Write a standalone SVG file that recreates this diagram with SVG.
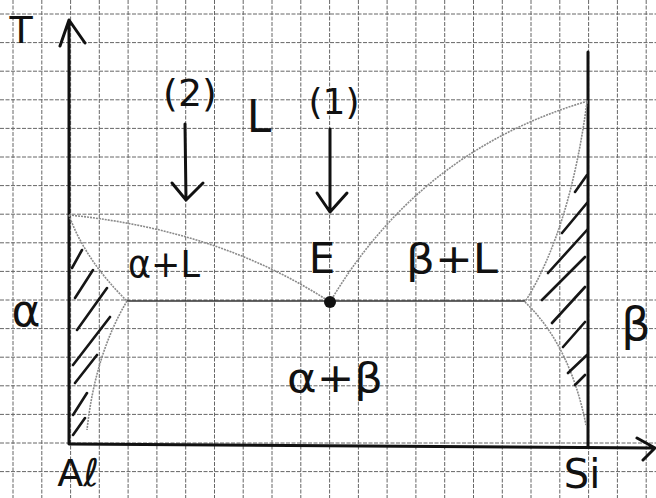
<svg xmlns="http://www.w3.org/2000/svg" width="656" height="498" viewBox="0 0 656 498">
  <style>
    .grid { fill: none; stroke: #666; stroke-width: 1; stroke-dasharray: 4 1.5; }
    .axis { fill: none; stroke: #111; stroke-width: 3; stroke-linecap: round; stroke-linejoin: round; }
    .curve { fill: none; stroke: #8a8a8a; stroke-width: 1.6; stroke-dasharray: 2 1; }
    .line { fill: none; stroke: #333; stroke-width: 1.6; }
    .hatch { fill: none; stroke: #161616; stroke-width: 2.6; stroke-linecap: round; }
    .arrow { fill: none; stroke: #111; stroke-width: 3; stroke-linecap: round; stroke-linejoin: round; }
    .lbl { font-family: "DejaVu Sans", "Liberation Sans", sans-serif; fill: #111; }
  </style>
  <rect width="656" height="498" fill="#fff"/>

  <!-- squared paper -->
  <g id="grid">
    <path class="grid" d="M13,0V498 M41.8,0V498 M70.6,0V498 M99.3,0V498 M128.1,0V498 M156.9,0V498 M185.7,0V498 M214.5,0V498 M243.2,0V498 M272,0V498 M300.8,0V498 M329.6,0V498 M358.4,0V498 M387.1,0V498 M415.9,0V498 M444.7,0V498 M473.5,0V498 M502.3,0V498 M531,0V498 M559.8,0V498 M588.6,0V498 M617.4,0V498 M646.2,0V498"/>
    <path class="grid" d="M0,14H656 M0,42.6H656 M0,71.2H656 M0,99.8H656 M0,128.4H656 M0,157H656 M0,185.6H656 M0,214.2H656 M0,242.8H656 M0,271.4H656 M0,300H656 M0,328.6H656 M0,357.2H656 M0,385.8H656 M0,414.4H656 M0,443H656 M0,471.6H656"/>
  </g>

  <!-- axes -->
  <g id="axes">
    <path class="axis" d="M69,443 V21 M60,46 L69,20 L85,43"/>
    <path class="axis" d="M69,444 L654,448 M637,438 L655,448 L643,460"/>
    <path class="axis" d="M588,52 V447"/>
  </g>

  <!-- phase boundaries -->
  <g id="connectors">
    <!-- liquidus -->
    <path class="curve" d="M69,215 Q220,230 330,302"/>
    <path class="curve" d="M330,302 Q420,150 588,101"/>
    <!-- eutectic line -->
    <path class="line" d="M127,301 H525"/>
    <!-- alpha solidus / solvus -->
    <path class="curve" d="M69,215 Q85,260 127,301"/>
    <path class="curve" d="M127,301 Q95,355 87,430"/>
    <!-- beta solidus / solvus -->
    <path class="curve" d="M587,102 Q570,230 525,302"/>
    <path class="curve" d="M525,302 Q570,345 586,425"/>
  </g>

  <!-- hatched alpha region -->
  <g id="alpha-hatch">
    <path class="hatch" d="M72,268 L82,250 M75,298 L93,270 M77,330 L107,288 M73,365 L110,317 M75,383 L97,355 M73,415 L87,393 M73,435 L85,418"/>
  </g>

  <!-- hatched beta region -->
  <g id="beta-hatch">
    <path class="hatch" d="M575,192 L587,175 M562,233 L587,203 M548,273 L587,230 M542,300 L585,257 M552,323 L585,287 M563,347 L585,322 M568,373 L587,355 M575,385 L585,375"/>
  </g>

  <!-- eutectic point -->
  <g id="point-E">
    <circle cx="330" cy="302" r="6" fill="#111"/>
    <text class="lbl" x="322" y="273" font-size="42" text-anchor="middle">E</text>
  </g>

  <!-- cooling paths -->
  <g id="path-2">
    <text class="lbl" x="190" y="106" font-size="38" text-anchor="middle">(2)</text>
    <path class="arrow" d="M185,124 L186,200 M172,183 L186,200 L203,183"/>
  </g>
  <g id="path-1">
    <text class="lbl" x="334" y="114" font-size="36" text-anchor="middle">(1)</text>
    <path class="arrow" d="M330,129 L330,212 M317,193 L330,212 L347,193"/>
  </g>

  <!-- labels -->
  <g id="label-T"><text class="lbl" x="21" y="43" font-size="38" text-anchor="middle">T</text></g>
  <g id="label-L"><text class="lbl" x="259" y="132" font-size="44" text-anchor="middle">L</text></g>
  <g id="label-aL"><text class="lbl" x="128" y="277" font-size="38" textLength="72" lengthAdjust="spacingAndGlyphs">α+L</text></g>
  <g id="label-bL"><text class="lbl" x="406" y="273" font-size="40" textLength="92" lengthAdjust="spacingAndGlyphs">β+L</text></g>
  <g id="label-ab"><text class="lbl" x="287" y="392" font-size="40" textLength="96" lengthAdjust="spacingAndGlyphs">α+β</text></g>
  <g id="label-alpha"><text class="lbl" x="26" y="326" font-size="44" text-anchor="middle">α</text></g>
  <g id="label-beta"><text class="lbl" x="636" y="340" font-size="46" text-anchor="middle">β</text></g>
  <g id="label-Al"><text class="lbl" x="78" y="486" font-size="38" text-anchor="middle">Aℓ</text></g>
  <g id="label-Si"><text class="lbl" x="582" y="488" font-size="40" text-anchor="middle">Si</text></g>
</svg>
